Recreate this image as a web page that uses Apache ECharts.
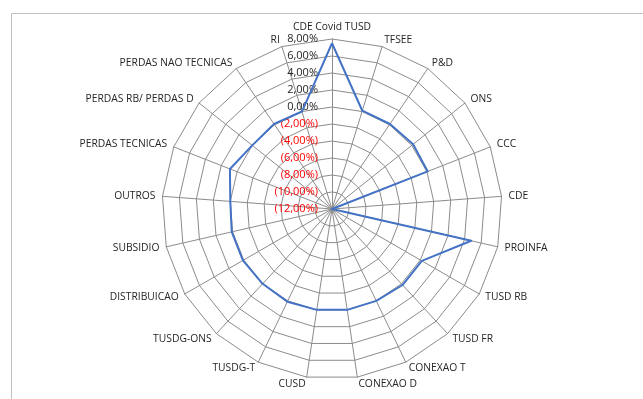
<!DOCTYPE html>
<html>
<head>
<meta charset="utf-8">
<script src="https://cdn.jsdelivr.net/npm/echarts@6/dist/echarts.min.js"></script>
<style>
  html, body { margin: 0; padding: 0; background: #fff; }
  #chart { width: 643px; height: 399px; }
</style>
</head>
<body>
<div id="chart"></div>
<script>
// Tariff components, clockwise from the top
const categories = [
  'CDE Covid TUSD', 'TFSEE', 'P&D', 'ONS', 'CCC', 'CDE', 'PROINFA',
  'TUSD RB', 'TUSD FR', 'CONEXAO T', 'CONEXAO D', 'CUSD', 'TUSDG-T',
  'TUSDG-ONS', 'DISTRIBUICAO', 'SUBSIDIO', 'OUTROS', 'PERDAS TECNICAS',
  'PERDAS RB/ PERDAS D', 'PERDAS NAO TECNICAS', 'RI'
];

// Variation per component, in percent
const variation = [
  7.5, 0.1, 0.1, 0.2, 0.1, -12.0, 4.8,
  0.2, 0.2, 0.0, 0.0, 0.0, 0.1,
  0.0, 0.1, 0.1, 0.0, 0.9,
  0.0, 0.1, 0.0
];

// Radial scale
const axisMin = -12;
const axisMax = 8;
const axisStep = 2;

function pct(v) {
  const s = Math.abs(v).toFixed(2).replace('.', ',') + '%';
  return v < 0 ? '{neg|(' + s + ')}' : '{pos|' + s + '}';
}

// ECharts lays radar axes out counter-clockwise; walk the list backwards
// after the first entry so the components run clockwise.
const order = [0];
for (let i = categories.length - 1; i > 0; i--) order.push(i);

const indicators = order.map((idx, k) => {
  const ind = { name: categories[idx], min: axisMin, max: axisMax };
  if (k === 0) {
    ind.axisLabel = { show: true };
  }
  return ind;
});
const seriesValues = order.map((idx) => variation[idx]);

const chart = echarts.init(document.getElementById('chart'), null, { renderer: 'canvas' });
chart.setOption({
  animation: false,
  backgroundColor: '#ffffff',
  graphic: [{
    type: 'rect',
    silent: true,
    shape: { x: 11.5, y: 13.5, width: 700, height: 500 },
    style: { fill: null, stroke: '#bfbfbf', lineWidth: 1 }
  }],
  radar: {
    center: [332, 209],
    radius: 170,
    startAngle: 90,
    shape: 'polygon',
    splitNumber: (axisMax - axisMin) / axisStep,
    indicator: indicators,
    nameGap: 7,
    axisName: {
      color: '#262626',
      fontFamily: 'Open Sans',
      fontSize: 10.3
    },
    axisLine: { lineStyle: { color: '#8c8c8c', width: 1 } },
    splitLine: { lineStyle: { color: '#8c8c8c', width: 1 } },
    splitArea: { show: false },
    axisTick: { show: false },
    axisLabel: {
      show: false,
      margin: 14,
      fontFamily: 'Open Sans',
      fontSize: 11,
      formatter: (v) => pct(v),
      rich: {
        neg: { color: '#ff0000', fontFamily: 'Open Sans', fontSize: 11 },
        pos: { color: '#262626', fontFamily: 'Open Sans', fontSize: 11 }
      }
    }
  },
  series: [{
    type: 'radar',
    symbol: 'none',
    lineStyle: { color: '#4472c4', width: 2 },
    data: [{ value: seriesValues, name: 'Variação' }]
  }]
});
</script>
</body>
</html>
